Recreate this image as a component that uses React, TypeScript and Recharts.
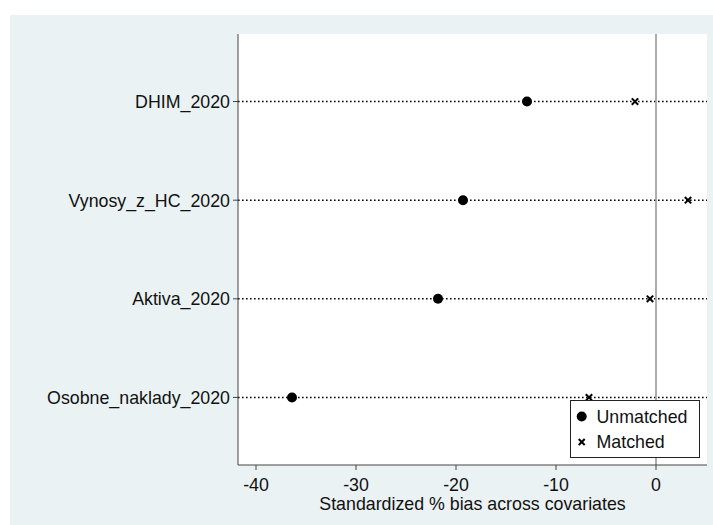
import React from 'react';
import { ScatterChart, Scatter, XAxis, YAxis, CartesianGrid, ReferenceLine } from 'recharts';

const categories = ['DHIM_2020', 'Vynosy_z_HC_2020', 'Aktiva_2020', 'Osobne_naklady_2020'];
const rowPositions = [4, 3, 2, 1];
const unmatchedValues = [-12.9, -19.3, -21.8, -36.4];
const matchedValues = [-2.1, 3.2, -0.6, -6.7];
const xTicks = [-40, -30, -20, -10, 0];
const seriesNames = ['Unmatched', 'Matched'];

const unmatchedData = categories.map((c, i) => ({ name: c, x: unmatchedValues[i], y: rowPositions[i] }));
const matchedData = categories.map((c, i) => ({ name: c, x: matchedValues[i], y: rowPositions[i] }));

const FONT = 'Arial, "Liberation Sans", sans-serif';
const FS = 17.8;
const BG = 'rgb(234,242,243)';

const Dot = (p: any) => <circle cx={p.cx} cy={p.cy} r={5} fill="#000" />;
const Cross = (p: any) => {
  const s = 3.2;
  return (
    <g stroke="#000" strokeWidth={2}>
      <line x1={p.cx - s} y1={p.cy - s} x2={p.cx + s} y2={p.cy + s} />
      <line x1={p.cx - s} y1={p.cy + s} x2={p.cx + s} y2={p.cy - s} />
    </g>
  );
};

const LegendBox = () => (
  <svg width={131} height={59} style={{ display: 'block' }}>
    <rect x={0.5} y={0.5} width={129} height={57} fill="#fff" stroke="#222" strokeWidth={1} />
    <circle cx={11.7} cy={16.5} r={5} fill="#000" />
    <text x={26.5} y={22.8} fontFamily={FONT} fontSize={FS} fill="#111">{seriesNames[0]}</text>
    <g stroke="#000" strokeWidth={2}>
      <line x1={8.7} y1={39} x2={14.7} y2={45} />
      <line x1={8.7} y1={45} x2={14.7} y2={39} />
    </g>
    <text x={26.5} y={48.3} fontFamily={FONT} fontSize={FS} fill="#111">{seriesNames[1]}</text>
  </svg>
);

export default function App() {
  return (
    <div style={{ position: 'absolute', left: 0, top: 0, width: 713, height: 525, background: '#fff' }}>
      <div style={{ position: 'absolute', left: 10, top: 15, width: 703, height: 510, background: BG }} />
      <div style={{ position: 'absolute', left: 0, top: 0 }}>
        <ScatterChart width={713} height={525} margin={{ top: 34, right: 6, bottom: 0, left: 0 }}>
          <CartesianGrid horizontal={false} vertical={false} fill="#fff" stroke="none" />
          <XAxis
            type="number"
            dataKey="x"
            domain={[-41.8, 5.1]}
            ticks={xTicks}
            allowDataOverflow
            height={60}
            tickSize={5}
            tickMargin={8}
            stroke="#444"
            tick={{ fill: '#111', fontFamily: FONT, fontSize: FS }}
            tickLine={{ stroke: '#444' }}
            label={{ value: 'Standardized % bias across covariates', position: 'insideBottom', offset: 15, fill: '#111', fontFamily: FONT, fontSize: FS }}
          />
          <YAxis
            type="number"
            dataKey="y"
            domain={[0.315, 4.685]}
            ticks={rowPositions}
            allowDataOverflow
            width={238}
            tickSize={5}
            tickMargin={3}
            stroke="#444"
            tickFormatter={(v: number) => categories[rowPositions.indexOf(v)] ?? ''}
            tick={{ fill: '#111', fontFamily: FONT, fontSize: FS }}
            tickLine={{ stroke: '#444' }}
          />
          {rowPositions.map((r) => (
            <ReferenceLine key={r} y={r} stroke="#000" strokeWidth={1.6} strokeDasharray="1.6 2.4" />
          ))}
          <ReferenceLine x={0} stroke="#999" strokeWidth={1.6} />
          <Scatter name={seriesNames[0]} data={unmatchedData} shape={Dot} isAnimationActive={false} />
          <Scatter name={seriesNames[1]} data={matchedData} shape={Cross} isAnimationActive={false} />
        </ScatterChart>
      </div>
      <div style={{ position: 'absolute', left: 570, top: 400 }}>
        <LegendBox />
      </div>
    </div>
  );
}
